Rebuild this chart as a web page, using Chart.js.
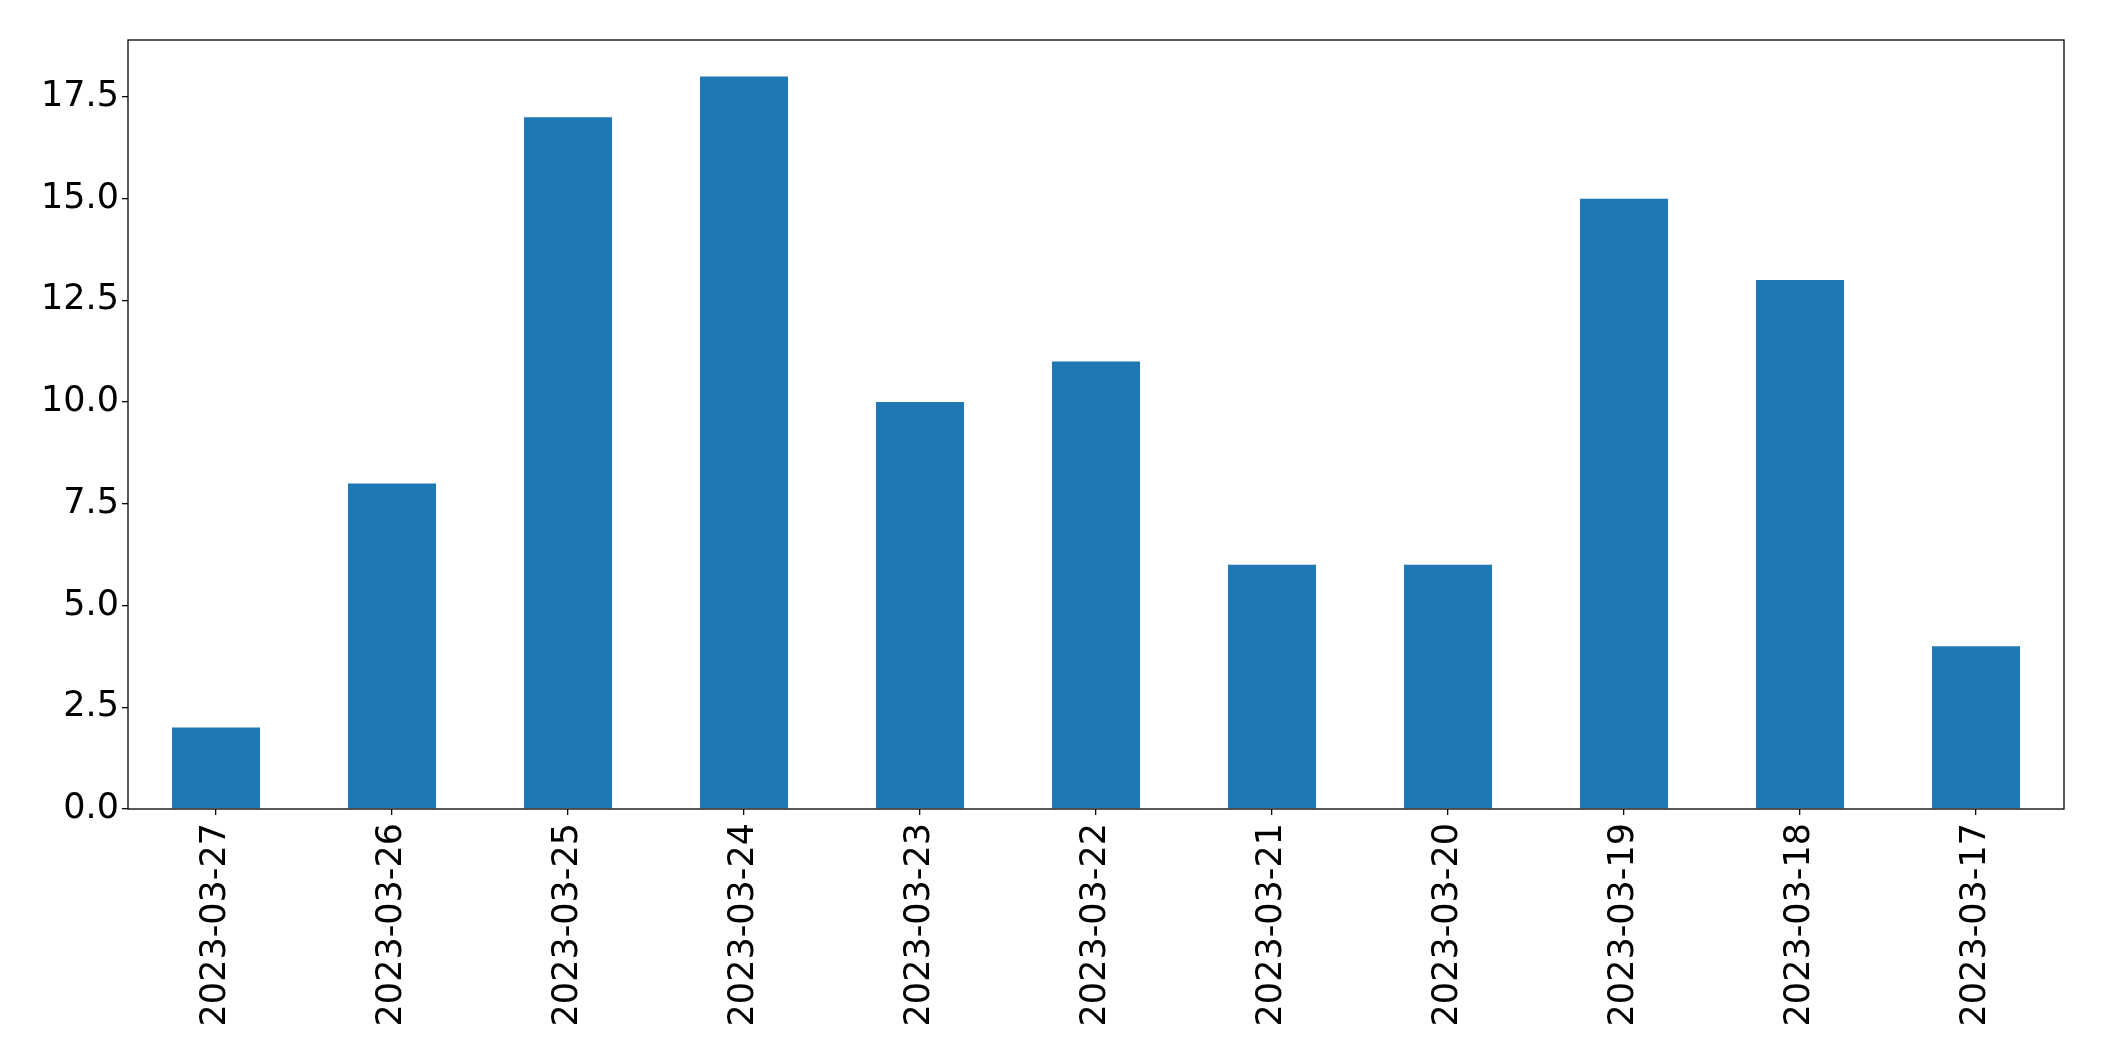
<!DOCTYPE html>
<html lang="en">
  <head>
    <meta charset="UTF-8" />
    <title>Daily counts</title>
    <script src="https://cdn.jsdelivr.net/npm/chart.js"></script>
    <style>
      html, body {
        margin: 0;
        padding: 0;
        background: white;
      }
      #wrap {
        width: 2104px;
        height: 1061px;
      }
    </style>
  </head>
  <body>
    <div id="wrap">
      <canvas id="countChart" width="2104" height="1061"></canvas>
    </div>

    <script>
      const dates = ['2023-03-27', '2023-03-26', '2023-03-25', '2023-03-24', '2023-03-23', '2023-03-22',
                     '2023-03-21', '2023-03-20', '2023-03-19', '2023-03-18', '2023-03-17'];
      const counts = [2, 8, 17, 18, 10, 11, 6, 6, 15, 13, 4];
      const yTicks = [0, 2.5, 5, 7.5, 10, 12.5, 15, 17.5];

      // matplotlib-style box around the plot area
      const frame = {
        id: 'frame',
        afterDraw(chart) {
          const a = chart.chartArea;
          const c = chart.ctx;
          c.save();
          c.strokeStyle = '#000';
          c.lineWidth = 1.3;
          c.strokeRect(a.left, a.top, a.right - a.left, a.bottom - a.top);
          c.restore();
        }
      };

      const ctx = document.getElementById('countChart').getContext('2d');

      new Chart(ctx, {
        type: 'bar',
        data: {
          labels: dates,
          datasets: [{
            data: counts,
            backgroundColor: '#1f77b4',
            borderWidth: 0,
            categoryPercentage: 1.0,
            barPercentage: 0.5
          }]
        },
        plugins: [frame],
        options: {
          responsive: false,
          animation: false,
          layout: { padding: { left: 0, top: 40, right: 40, bottom: 0 } },
          plugins: {
            legend: { display: false },
            tooltip: { enabled: false }
          },
          scales: {
            x: {
              offset: true,
              grid: { display: true, offset: false, drawOnChartArea: false, tickLength: 6, color: '#000', lineWidth: 1.3 },
              border: { display: false },
              ticks: {
                color: '#000',
                font: { family: 'DejaVu Sans', size: 35 },
                minRotation: 90,
                maxRotation: 90,
                autoSkip: false,
                padding: 8
              },
              afterFit(scale) { scale.height = 252; }
            },
            y: {
              min: 0,
              max: 18.9,
              grid: { display: true, drawOnChartArea: false, tickLength: 6, color: '#000', lineWidth: 1.3 },
              border: { display: false },
              afterBuildTicks(scale) {
                scale.ticks = yTicks.map(v => ({ value: v }));
              },
              ticks: {
                color: '#000',
                font: { family: 'DejaVu Sans', size: 35 },
                padding: 3,
                callback: function(value) {
                  return value.toFixed(1);
                }
              },
              afterFit(scale) { scale.width = 128; }
            }
          }
        }
      });
    </script>
  </body>
</html>
